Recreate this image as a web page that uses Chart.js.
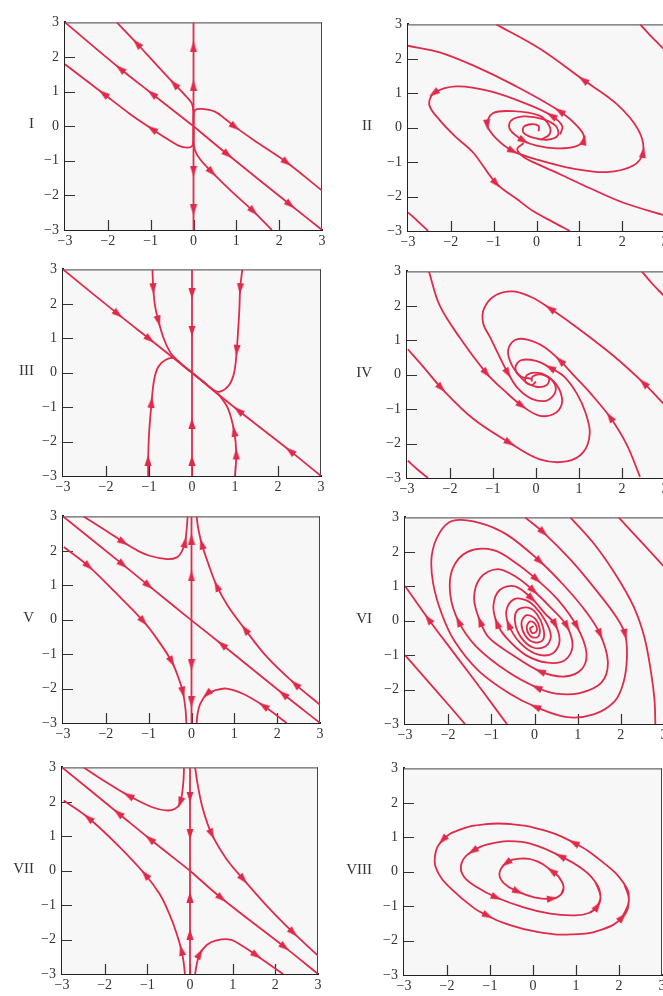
<!DOCTYPE html>
<html>
<head>
<meta charset="utf-8">
<script src="https://cdn.jsdelivr.net/npm/chart.js@4.4.1/dist/chart.umd.min.js"></script>
<style>
  html, body { margin: 0; padding: 0; background: #fff; width: 663px; height: 996px; overflow: hidden; }
  canvas.panel { position: absolute; }
  .roman { position: absolute; width: 40px; text-align: right; font-family: "Liberation Serif", serif; font-size: 15px; line-height: 16px; color: #333; z-index: 2; }
</style>
</head>
<body>
<script>
const RED = '#e02a4a';
const TICKS = [-3, -2, -1, 0, 1, 2, 3];
const TICK_LABELS = ['\u22123', '\u22122', '\u22121', '0', '1', '2', '3'];
const INNER_TICKS = [-2, -1, 0, 1, 2];

// ---- I ----
const I_up = [[0, 0], [0, 1.18], [0, 2.3], [0, 3]];
const I_down = [[0, 0], [0, -1.3], [0, -2.42], [0, -3]];
const I_diagUL = [[0, 0], [-0.97, 0.94], [-1.71, 1.66], [-3, 3]];
const I_diagDR = [[0, 0], [0.8, -0.82], [2.26, -2.27], [3, -3]];
const I_UL = [[0, 0.02], [0, 0.35], [-0.04, 0.66], [-0.23, 0.94], [-0.45, 1.22], [-0.9, 1.82], [-1.32, 2.39], [-1.79, 3]];
const I_LL = [[0, -0.02], [0, -0.35], [-0.03, -0.57], [-0.15, -0.62], [-0.35, -0.56], [-0.6, -0.38], [-0.97, -0.08], [-1.5, 0.37], [-2.1, 0.94], [-3, 1.79]];
const I_UR = [[0, 0.02], [0, 0.3], [0.04, 0.47], [0.2, 0.5], [0.5, 0.42], [0.75, 0.2], [0.97, -0.02], [1.5, -0.48], [2.18, -1.05], [3, -1.86]];
const I_LR = [[0, -0.02], [0, -0.4], [0.03, -0.68], [0.15, -0.95], [0.43, -1.33], [0.9, -1.9], [1.4, -2.46], [1.83, -3]];

// ---- II ----
const II_t1 = [[0.05, -0.1], [0.05, 0.05], [-0.12, 0.1], [-0.3, 0.02], [-0.3, -0.15], [-0.1, -0.28], [0.25, -0.35], [0.5, -0.22], [0.45, 0.05], [0.15, 0.25], [-0.3, 0.33], [-0.6, 0.2], [-0.62, -0.05], [-0.3, -0.38], [0, -0.52], [0.47, -0.6], [0.9, -0.55], [1.11, -0.35], [1.0, -0.02], [0.54, 0.48], [-0.55, 1.25], [-1.48, 1.81], [-2.26, 2.19], [-3, 2.38]];
const II_t2 = [[0.1, -0.35], [0.3, -0.2], [0.3, 0.05], [0.07, 0.35], [-0.55, 0.48], [-1.02, 0.42], [-1.15, 0.08], [-0.95, -0.3], [-0.55, -0.68], [0.08, -0.95], [0.86, -1.19], [1.64, -1.29], [2.26, -1.1], [2.49, -0.72], [2.38, -0.07], [1.87, 0.69], [1.09, 1.39], [0.08, 2.29], [-0.94, 3]];
const II_t3 = [[0.55, -0.2], [0.6, 0.05], [0.35, 0.35], [-0.23, 0.69], [-1.09, 1.06], [-1.87, 1.2], [-2.4, 1.0], [-2.5, 0.65], [-2.26, 0.22], [-1.9, -0.25], [-1.48, -0.72], [-0.94, -1.62], [-0.45, -2.08], [-0.08, -2.42], [0.4, -2.75], [0.78, -3]];
const II_t4 = [[-0.3, -0.45], [-0.45, -0.62], [-0.3, -0.85], [0.1, -1.1], [0.6, -1.38], [1.25, -1.76], [2.03, -2.18], [3, -2.55]];
const II_cornerTR = [[2.42, 3], [2.7, 2.62], [3, 2.25]];
const II_cornerBL = [[-3, -2.46], [-2.75, -2.74], [-2.53, -3]];

// ---- III ----
const III_diagUL = [[-3, 3], [-1.72, 1.7], [-0.98, 0.97], [0, 0]];
const III_diagDR = [[3, -3], [2.28, -2.27], [1.08, -1.1], [0, 0]];
const III_vTop = [[0, 3], [0, 2.3], [0, 1.21], [0, 0]];
const III_vBot = [[0, -3], [0, -2.55], [0, -1.47], [0, 0]];
const III_TL = [[-0.92, 3], [-0.9, 2.44], [-0.86, 1.95], [-0.78, 1.5], [-0.66, 1.0], [-0.52, 0.62], [-0.4, 0.43], [-0.2, 0.2], [0, 0]];
const III_BL = [[-1.02, -3], [-1.02, -2.55], [-1.0, -1.8], [-0.94, -0.86], [-0.88, -0.2], [-0.78, 0.18], [-0.62, 0.37], [-0.42, 0.42], [-0.2, 0.2], [0, 0]];
const III_TR = [[1.17, 3], [1.12, 2.44], [1.1, 1.8], [1.04, 0.65], [0.98, 0.0], [0.85, -0.38], [0.65, -0.55], [0.5, -0.5], [0.25, -0.25], [0, 0]];
const III_BR = [[1.0, -3], [1.03, -2.36], [0.98, -1.7], [0.84, -1.05], [0.65, -0.68], [0.5, -0.52], [0.25, -0.25], [0, 0]];

// ---- IV ----
const IV_t = [[-2.49, 3], [-2.24, 2.01], [-1.77, 1.07], [-1.15, 0.04], [-0.68, -0.53], [-0.33, -0.9], [0.05, -1.18], [0.4, -1.15], [0.6, -0.85], [0.55, -0.45], [0.35, -0.12], [0.05, 0.05], [-0.2, 0], [-0.25, -0.2], [-0.1, -0.3], [0, -0.2]];
const IV_d = [[2.97, -0.85], [2.5, -0.24], [1.8, 0.55], [1.03, 1.3], [0.33, 1.92], [-0.1, 2.25], [-0.53, 2.42], [-0.92, 2.32], [-1.2, 1.95], [-1.23, 1.5], [-1.06, 1.07], [-0.77, 0.32], [-0.65, 0.04], [-0.42, -0.4], [-0.1, -0.7], [0.25, -0.75], [0.45, -0.5], [0.4, -0.2], [0.15, 0], [-0.08, -0.05], [-0.1, -0.2]];
const IV_e = [[2.42, -2.97], [2.11, -2.03], [1.72, -1.23], [1.26, -0.53], [0.9, -0.05], [0.56, 0.41], [0.2, 0.8], [-0.2, 1.02], [-0.5, 1.0], [-0.65, 0.7], [-0.55, 0.25], [-0.3, -0.15], [0, -0.35], [0.25, -0.3], [0.3, -0.1], [0.1, 0.05]];
const IV_f = [[-2.98, 0.74], [-2.6, 0.2], [-2.2, -0.39], [-1.46, -1.28], [-0.61, -1.98], [0.09, -2.46], [0.71, -2.52], [1.1, -2.25], [1.25, -1.7], [1.15, -1.1], [0.95, -0.55], [0.65, -0.05], [0.33, 0.2], [0, 0.4], [-0.35, 0.42], [-0.48, 0.2], [-0.35, -0.05], [-0.1, -0.12]];
const IV_cornerTR = [[2.46, 3], [2.72, 2.62], [2.97, 2.3]];
const IV_cornerBL = [[-2.98, -2.5], [-2.75, -2.76], [-2.51, -3]];

// ---- V ----
const V_up = [[0, 0], [0, 1.27], [0, 2.34], [0, 3]];
const V_down = [[0, 0], [0, -1.31], [0, -2.39], [0, -3]];
const V_diagUL = [[-3, 3], [-1.6, 1.6], [-1.0, 0.99], [0, -0.02]];
const V_diagDR = [[3, -3], [2.14, -2.16], [0.71, -0.72], [0, -0.02]];
const V_UL = [[-2.52, 3], [-1.95, 2.55], [-1.59, 2.25], [-1.25, 2.0], [-0.96, 1.85], [-0.57, 1.76], [-0.34, 1.81], [-0.23, 1.97], [-0.15, 2.25], [-0.11, 2.67], [-0.09, 3]];
const V_LL = [[-2.98, 2.11], [-2.4, 1.55], [-1.8, 0.82], [-1.12, -0.05], [-0.78, -0.6], [-0.46, -1.22], [-0.3, -1.7], [-0.2, -2.11], [-0.14, -2.6], [-0.12, -3]];
const V_UR = [[3, -2.47], [2.42, -1.87], [1.76, -1.08], [1.25, -0.28], [0.85, 0.4], [0.59, 0.98], [0.4, 1.6], [0.24, 2.2], [0.15, 2.7], [0.12, 3]];
const V_LR = [[2.22, -3], [1.68, -2.5], [1.2, -2.15], [0.82, -2.0], [0.55, -2.05], [0.36, -2.16], [0.2, -2.45], [0.14, -2.75], [0.12, -3]];

// ---- VI ----
const VI_c1 = [[-0.64, -3], [-1.2, -2.05], [-1.8, -1.05], [-2.46, 0.05], [-3, 1.01]];
const VI_c2 = [[-1.61, -3], [-2.3, -2.0], [-3, -1.0]];
const VI_r1 = [[0.83, 3], [1.4, 2.2], [1.9, 1.3], [2.3, 0.4], [2.55, -0.5], [2.7, -1.5], [2.78, -2.3], [2.8, -3]];
const VI_r2 = [[1.95, 3], [2.5, 2.25], [3, 1.57]];
const VI_s = [
  [-0.22, 3], [0.21, 2.56], [0.85, 1.75], [1.45, 0.85], [1.9, 0.1], [2.1, -0.4], [2.14, -1.1], [2.06, -1.8], [1.85, -2.35], [1.37, -2.72], [0.75, -2.8], [0.02, -2.5], [-0.6, -2.1], [-1.3, -1.45], [-1.85, -0.6], [-2.15, 0.2], [-2.35, 1.1], [-2.38, 1.9], [-2.2, 2.55], [-1.9, 2.9], [-1.3, 2.85], [-0.64, 2.5],
  [0.13, 1.72], [0.7, 1.0], [1.2, 0.25], [1.52, -0.39], [1.7, -1.2], [1.55, -1.8], [1.05, -2.1], [0.5, -2.12], [0.05, -1.94], [-0.6, -1.5], [-1.35, -0.75], [-1.76, -0.02], [-1.95, 0.75], [-1.9, 1.5], [-1.55, 2.0], [-0.95, 2.05], [-0.4, 1.65],
  [0.05, 1.2], [0.55, 0.6], [0.98, -0.16], [1.2, -0.9], [1.1, -1.4], [0.7, -1.62], [0.13, -1.47], [-0.5, -1.0], [-1.05, -0.5], [-1.26, -0.02], [-1.4, 0.65], [-1.25, 1.25], [-0.85, 1.5], [-0.4, 1.25],
  [-0.02, 0.87], [0.4, 0.35], [0.75, -0.16], [0.88, -0.75], [0.7, -1.15], [0.3, -1.22], [-0.2, -1.0], [-0.65, -0.5], [-0.87, -0.07], [-0.95, 0.45], [-0.8, 0.9], [-0.45, 1.0],
  [-0.06, 0.64], [0.25, 0.2], [0.48, -0.11], [0.58, -0.6], [0.42, -0.95], [0.05, -0.97], [-0.35, -0.62], [-0.6, -0.11], [-0.65, 0.3], [-0.48, 0.62], [-0.2, 0.6],
  [0, 0.42], [0.25, 0], [0.38, -0.45], [0.25, -0.75], [-0.05, -0.77], [-0.32, -0.47], [-0.45, -0.05], [-0.4, 0.3], [-0.15, 0.38],
  [0.05, 0.2], [0.2, -0.2], [0.2, -0.55], [0, -0.63], [-0.22, -0.42], [-0.3, -0.05], [-0.18, 0.16],
  [0.02, 0.05], [0.12, -0.25], [0.08, -0.47], [-0.08, -0.46], [-0.18, -0.2], [-0.1, -0.02],
  [0.02, -0.1], [0.05, -0.3], [-0.05, -0.36], [-0.1, -0.22], [-0.02, -0.16]
];

// ---- VII ----
const VII_down = [[0, 3], [0, 2.14], [0, 1.06], [0, 0]];
const VII_up = [[0, -3], [0, -1.85], [0, -0.77], [0, 0]];
const VII_diagUL = [[0, 0], [-0.94, 0.92], [-1.68, 1.67], [-3, 3]];
const VII_diagDR = [[0, 0], [0.74, -0.8], [2.22, -2.22], [3, -3]];
const VII_UL = [[-0.14, 3], [-0.16, 2.51], [-0.23, 1.98], [-0.35, 1.8], [-0.55, 1.75], [-0.9, 1.85], [-1.44, 2.18], [-2.0, 2.6], [-2.49, 3]];
const VII_LL = [[-0.12, -3], [-0.15, -2.65], [-0.2, -2.31], [-0.32, -1.8], [-0.47, -1.3], [-0.7, -0.7], [-1.05, -0.11], [-1.7, 0.75], [-2.38, 1.53], [-2.96, 2.04]];
const VII_UR = [[0.12, 3], [0.18, 2.5], [0.3, 1.8], [0.51, 1.06], [0.85, 0.35], [1.25, -0.25], [1.8, -1.02], [2.42, -1.8], [3, -2.47]];
const VII_LR = [[0.12, -3], [0.16, -2.7], [0.23, -2.41], [0.4, -2.15], [0.6, -2.03], [0.94, -2.0], [1.25, -2.2], [1.56, -2.46], [2.18, -3]];

// ---- VIII (closed orbits: first point repeated at the end) ----
const VIII_outer = [[2.23, -0.84], [2.12, -0.35], [1.6, 0.3], [0.95, 0.84], [0.2, 1.22], [-0.5, 1.38], [-1.1, 1.38], [-1.7, 1.22], [-2.1, 0.92], [-2.28, 0.45], [-2.2, -0.05], [-1.9, -0.5], [-1.38, -1.05], [-1.05, -1.28], [-0.7, -1.48], [0.1, -1.75], [0.9, -1.82], [1.6, -1.68], [2.08, -1.32], [2.23, -0.84]];
const VIII_mid = [[1.57, -0.72], [1.45, -0.3], [1.1, 0.12], [0.64, 0.45], [0.1, 0.75], [-0.4, 0.88], [-0.95, 0.82], [-1.4, 0.6], [-1.66, 0.25], [-1.62, -0.12], [-1.3, -0.45], [-0.85, -0.75], [-0.25, -1.02], [0.4, -1.22], [0.95, -1.27], [1.3, -1.2], [1.5, -1.0], [1.57, -0.72]];
const VIII_inner = [[0.71, -0.42], [0.6, -0.15], [0.44, 0.02], [0.1, 0.3], [-0.3, 0.38], [-0.62, 0.25], [-0.78, -0.05], [-0.68, -0.33], [-0.35, -0.58], [0.05, -0.75], [0.45, -0.78], [0.66, -0.65], [0.71, -0.42]];

const PANELS = [
  { label: 'I', box: [65, 16, 322, 230], curves: [
    [I_up, [[0, 1.18], [0, 2.3]]], [I_down, [[0, -1.3], [0, -2.42]]],
    [I_diagUL, [[-0.97, 0.94], [-1.71, 1.66]]], [I_diagDR, [[0.8, -0.82], [2.26, -2.27]]],
    [I_UL, [[-0.45, 1.22], [-1.32, 2.39]]], [I_LL, [[-0.97, -0.08], [-2.1, 0.94]]],
    [I_UR, [[0.97, -0.02], [2.18, -1.05]]], [I_LR, [[0.43, -1.33], [1.4, -2.46]]]] },
  { label: 'II', box: [408, 18, 665, 231], curves: [
    [II_t1, [[-0.3, -0.38], [1.11, -0.35], [0.54, 0.48]]],
    [II_t2, [[-1.15, 0.08], [-0.55, -0.68], [2.49, -0.72], [1.09, 1.39]]],
    [II_t3, [[0.35, 0.35], [-2.4, 1.0], [-0.94, -1.62]]],
    [II_t4, []], [II_cornerTR, []], [II_cornerBL, []]] },
  { label: 'III', box: [63, 263, 321, 476], curves: [
    [III_diagUL, [[-1.72, 1.7], [-0.98, 0.97]]], [III_diagDR, [[2.28, -2.27], [1.08, -1.1]]],
    [III_vTop, [[0, 2.3], [0, 1.21]]], [III_vBot, [[0, -2.55], [0, -1.47]]],
    [III_TL, [[-0.9, 2.44], [-0.78, 1.5]]], [III_BL, [[-1.02, -2.55], [-0.94, -0.86]]],
    [III_TR, [[1.12, 2.44], [1.04, 0.65]]], [III_BR, [[1.03, -2.36], [0.98, -1.7]]]] },
  { label: 'IV', box: [407, 265, 665, 478], curves: [
    [IV_t, [[-1.15, 0.04], [-0.33, -0.9]]],
    [IV_d, [[2.5, -0.24], [0.33, 1.92], [-0.65, 0.04]]],
    [IV_e, [[1.72, -1.23], [0.56, 0.41]]],
    [IV_f, [[-2.2, -0.39], [-0.61, -1.98], [0.33, 0.2]]],
    [IV_cornerTR, []], [IV_cornerBL, []]] },
  { label: 'V', box: [63, 510, 320, 723], curves: [
    [V_up, [[0, 1.27], [0, 2.34]]], [V_down, [[0, -1.31], [0, -2.39]]],
    [V_diagUL, [[-1.6, 1.6], [-1.0, 0.99]]], [V_diagDR, [[2.14, -2.16], [0.71, -0.72]]],
    [V_UL, [[-1.59, 2.25], [-0.15, 2.25]]], [V_LL, [[-2.4, 1.55], [-1.12, -0.05], [-0.46, -1.22], [-0.2, -2.11]]],
    [V_UR, [[2.42, -1.87], [1.25, -0.28], [0.59, 0.98], [0.24, 2.2]]], [V_LR, [[1.68, -2.5], [0.36, -2.16]]]] },
  { label: 'VI', box: [405, 511, 664, 724], curves: [
    [VI_c1, [[-2.46, 0.05]]], [VI_c2, []], [VI_r1, []], [VI_r2, []],
    [VI_s, [[0.21, 2.56], [2.1, -0.4], [0.02, -2.5], [0.13, 1.72], [1.52, -0.39], [0.05, -1.94], [-1.76, -0.02],
      [0.05, 1.2], [0.98, -0.16], [0.13, -1.47], [-1.26, -0.02], [-0.02, 0.87], [0.75, -0.16], [-0.87, -0.07],
      [-0.06, 0.64], [0.48, -0.11], [-0.6, -0.11]]]] },
  { label: 'VII', box: [62, 761, 318, 974], curves: [
    [VII_down, [[0, 2.14], [0, 1.06]]], [VII_up, [[0, -1.85], [0, -0.77]]],
    [VII_diagUL, [[-0.94, 0.92], [-1.68, 1.67]]], [VII_diagDR, [[0.74, -0.8], [2.22, -2.22]]],
    [VII_UL, [[-0.23, 1.98], [-1.44, 2.18]]], [VII_LL, [[-0.2, -2.31], [-1.05, -0.11], [-2.38, 1.53]]],
    [VII_UR, [[0.51, 1.06], [1.25, -0.25], [2.42, -1.8]]], [VII_LR, [[0.23, -2.41], [1.56, -2.46]]]] },
  { label: 'VIII', box: [404, 762, 662, 975], curves: [
    [VIII_outer, [[0.95, 0.84], [-2.1, 0.92], [-1.05, -1.28], [2.08, -1.32]]],
    [VIII_mid, [[0.64, 0.45], [-1.4, 0.6], [-0.85, -0.75], [1.5, -1.0]]],
    [VIII_inner, [[0.44, 0.02], [-0.62, 0.25], [-0.35, -0.58], [0.45, -0.78]]]] },
];

const AXIS_W = 45, AXIS_H = 22, PAD_T = 8, PAD_R = 8;
const FONT = { family: '"Liberation Serif", "DejaVu Serif", serif', size: 14 };

function arrowImage() {
  const c = document.createElement('canvas');
  c.width = 8; c.height = 11;
  const g = c.getContext('2d');
  g.fillStyle = RED;
  g.beginPath();
  g.moveTo(4, 0); g.lineTo(7.6, 11); g.lineTo(0.4, 11); g.closePath();
  g.fill();
  return c;
}
const ARROW = arrowImage();

function nearestIndex(pts, [ax, ay]) {
  let best = 0, bd = Infinity;
  pts.forEach(([x, y], i) => {
    const d = (x - ax) ** 2 + (y - ay) ** 2;
    if (d < bd) { bd = d; best = i; }
  });
  return best;
}

const framePlugin = {
  id: 'frame',
  beforeDatasetsDraw(chart) {
    const { ctx, chartArea: a, scales: { x, y } } = chart;
    ctx.save();
    ctx.fillStyle = '#f7f7f7';
    ctx.fillRect(a.left, a.top, a.right - a.left, a.bottom - a.top);
    ctx.strokeStyle = '#444';
    ctx.lineWidth = 1;
    ctx.beginPath();
    ctx.moveTo(a.left, a.top + 0.5); ctx.lineTo(a.right, a.top + 0.5);
    ctx.moveTo(a.right - 0.5, a.top); ctx.lineTo(a.right - 0.5, a.bottom);
    ctx.stroke();
    ctx.strokeStyle = '#333';
    ctx.lineWidth = 1.2;
    ctx.beginPath();
    for (const v of INNER_TICKS) {
      const px = Math.round(x.getPixelForValue(v)) + 0.5;
      ctx.moveTo(px, a.bottom); ctx.lineTo(px, a.bottom - 10);
      const py = Math.round(y.getPixelForValue(v)) + 0.5;
      ctx.moveTo(a.left, py); ctx.lineTo(a.left + 10, py);
    }
    ctx.stroke();
    ctx.restore();
  },
};

function axis(extra) {
  return {
    type: 'linear', min: -3, max: 3,
    grid: { display: false, drawTicks: false },
    border: { display: true, color: '#222', width: 2 },
    ticks: {
      stepSize: 1, autoSkip: false, maxRotation: 0, color: '#333', font: FONT,
      callback: (v) => TICK_LABELS[TICKS.indexOf(v)] ?? '',
      ...extra.ticks,
    },
    afterFit: extra.afterFit,
  };
}

function renderPanel(panel) {
  const [L, T, R, B] = panel.box;
  const canvas = document.createElement('canvas');
  canvas.className = 'panel';
  const w = (R - L) + AXIS_W + PAD_R;
  const h = (B - T) + PAD_T + AXIS_H;
  canvas.width = w; canvas.height = h;
  canvas.style.left = (L - AXIS_W) + 'px';
  canvas.style.top = (T - PAD_T) + 'px';
  canvas.style.width = w + 'px';
  canvas.style.height = h + 'px';
  document.body.appendChild(canvas);

  const label = document.createElement('div');
  label.className = 'roman';
  label.textContent = panel.label;
  label.style.left = (L < 200 ? 34 - 40 : 372 - 40) + 'px';
  label.style.top = ((T + B) / 2 - 8) + 'px';
  document.body.appendChild(label);

  const datasets = [];
  const arrows = [];
  for (const [pts, arrowAt] of panel.curves) {
    const n = pts.length;
    const closed = pts[0][0] === pts[n - 1][0] && pts[0][1] === pts[n - 1][1];
    // closed orbits get one wrap-around point on each side so the spline joins smoothly
    const drawn = closed ? [pts[n - 2], ...pts, pts[1]] : pts;
    datasets.push({
      data: drawn.map(([x, y]) => ({ x, y })),
      showLine: true, fill: false,
      borderColor: RED, borderWidth: 1.8,
      pointRadius: 0, tension: closed ? 0.45 : 0.35,
    });
    for (const a of arrowAt) {
      const i = nearestIndex(pts, a);
      const prev = pts[i > 0 ? i - 1 : (closed ? n - 2 : 0)];
      const next = pts[i < n - 1 ? i + 1 : (closed ? 1 : n - 1)];
      arrows.push({ x: pts[i][0], y: pts[i][1], px: prev[0], py: prev[1], nx: next[0], ny: next[1] });
    }
  }
  datasets.push({
    data: arrows, showLine: false,
    pointStyle: ARROW, pointRadius: 5,
    rotation: (ctx) => {
      const r = ctx.raw;
      if (!r) return 0;
      const sx = ctx.chart.scales.x, sy = ctx.chart.scales.y;
      const dx = sx.getPixelForValue(r.nx) - sx.getPixelForValue(r.px);
      const dy = sy.getPixelForValue(r.ny) - sy.getPixelForValue(r.py);
      return Math.atan2(dx, -dy) * 180 / Math.PI;
    },
  });

  new Chart(canvas.getContext('2d'), {
    type: 'scatter',
    data: { datasets },
    options: {
      responsive: false,
      animation: false,
      devicePixelRatio: 1,
      layout: { autoPadding: false, padding: { left: 0, top: PAD_T, right: PAD_R, bottom: 0 } },
      scales: {
        x: axis({ ticks: { padding: 3 }, afterFit: (s) => { s.height = AXIS_H; } }),
        y: axis({ ticks: { padding: 6 }, afterFit: (s) => { s.width = AXIS_W; } }),
      },
      plugins: { legend: { display: false }, tooltip: { enabled: false } },
    },
    plugins: [framePlugin],
  });
}

PANELS.forEach(renderPanel);
</script>
</body>
</html>
